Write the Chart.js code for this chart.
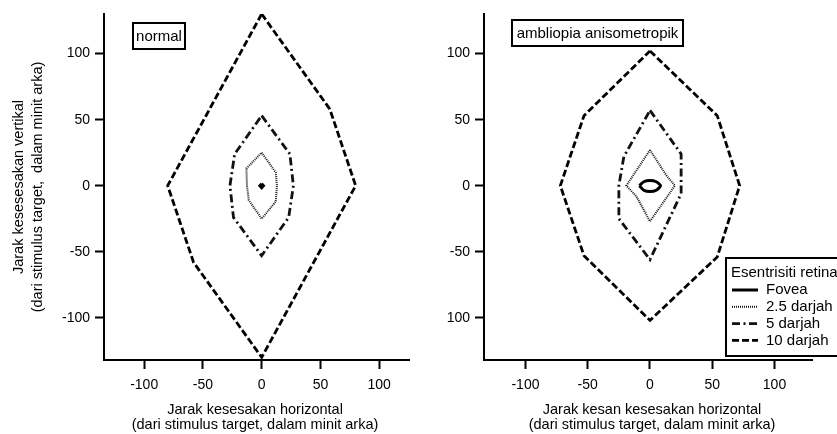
<!DOCTYPE html>
<html>
<head>
<meta charset="utf-8">
<script src="https://cdn.jsdelivr.net/npm/chart.js@4.4.1/dist/chart.umd.min.js"></script>
<style>
  html, body { margin: 0; padding: 0; background: #fff; }
  #wrap { position: relative; width: 837px; height: 434px; overflow: hidden; }
  #left { position: absolute; left: 0; top: 0; }
  #right { position: absolute; left: 420px; top: 0; }
</style>
</head>
<body>
<div id="wrap">
  <canvas id="left" width="420" height="434"></canvas>
  <canvas id="right" width="417" height="434"></canvas>
</div>
<script>
// tick values / labels
const xTicks = [-100, -50, 0, 50, 100];
const yTicks = [-100, -50, 0, 50, 100];
const leftYTickLabels = ['-100', '-50', '0', '50', '100'];
const rightYTickLabels = ['100', '-50', '0', '50', '100'];   // as printed in the figure
const seriesNames = ['Fovea', '2.5 darjah', '5 darjah', '10 darjah'];

// panel "normal"
const normFoveaX = [0, 1.5, 0, -1.5, 0];
const normFoveaY = [1.5, 0, -1.5, 0, 1.5];
const norm25X = [0, 12, 13, 12, 0, -11, -12.5, -13, 0];
const norm25Y = [25, 10, 0, -12, -25, -11, 0, 13, 25];
const norm5X = [0, 24, 27, 23, 0, -24, -27, -23, 0];
const norm5Y = [53, 24, 0, -24, -53, -24, 0, 24, 53];
const norm10X = [0, 58, 80, 0, -58, -80, 0];
const norm10Y = [130, 58, 0, -130, -58, 0, 130];

// panel "ambliopia anisometropik"
const ambFoveaX = [-8.5, -5, 0, 5, 8.5, 5, 0, -5, -8.5];
const ambFoveaY = [0, 3, 4, 3, 0, -3.5, -4.5, -3.5, 0];
const amb25X = [0, 13, 20, 0, -11, -19, 0];
const amb25Y = [27, 8, 0, -27, -8, 0, 27];
const amb5X = [0, 25, 25, 0, -25, -25, -21, 0];
const amb5Y = [57, 24, -6, -56, -25, 0, 22, 57];
const amb10X = [0, 54, 72, 54, 0, -53, -72, -53, 0];
const amb10Y = [102, 53, 0, -54, -102, -53, 0, 53, 102];

// line styles per series
const lineDashes = [[], [1, 1], [8, 3.5, 2, 3.5], [7, 3]];
const lineWidths = [3, 2, 2.8, 2.8];
const lineColors = ['#000', '#1a1a1a', '#111', '#000'];

const FONT = "'Liberation Sans', Arial, sans-serif";

function pts(xs, ys) {
  return xs.map((x, i) => ({ x: x, y: ys[i] }));
}

function decor(cfg) {
  return {
    id: 'decor',
    afterDraw(chart) {
      const ctx = chart.ctx;
      ctx.save();
      ctx.fillStyle = '#000';
      ctx.strokeStyle = '#000';
      ctx.font = '14.5px ' + FONT;
      ctx.textAlign = 'center';
      ctx.textBaseline = 'middle';
      // x title
      ctx.fillText(cfg.xTitle[0], cfg.xTitleX, 410);
      ctx.fillText(cfg.xTitle[1], cfg.xTitleX, 425);
      // y title
      if (cfg.yTitle) {
        ctx.save();
        ctx.translate(19, 187);
        ctx.rotate(-Math.PI / 2);
        ctx.fillText(cfg.yTitle[0], 0, 0);
        ctx.fillText(cfg.yTitle[1], 0, 19);
        ctx.restore();
      }
      // panel label box
      const b = cfg.labelBox;
      ctx.lineWidth = 2;
      ctx.strokeRect(b[0], b[1], b[2], b[3]);
      ctx.font = '15px ' + FONT;
      ctx.fillText(cfg.label, b[0] + b[2] / 2, b[1] + b[3] / 2 + 1);
      // legend
      if (cfg.legend) {
        const l = cfg.legend;
        ctx.fillStyle = '#fff';
        ctx.fillRect(l.x, l.y, l.w, l.h);
        ctx.lineWidth = 2;
        ctx.strokeRect(l.x, l.y, l.w, l.h);
        ctx.fillStyle = '#000';
        ctx.textAlign = 'left';
        ctx.fillText(l.title, l.x + 5, l.y + 15);
        chart.data.datasets.forEach((ds, i) => {
          const yy = l.y + 32 + i * 16.8;
          ctx.save();
          ctx.strokeStyle = ds.borderColor;
          ctx.lineWidth = ds.borderWidth;
          ctx.setLineDash(ds.borderDash || []);
          ctx.beginPath();
          ctx.moveTo(l.x + 6, yy);
          ctx.lineTo(l.x + 32, yy);
          ctx.stroke();
          ctx.restore();
          ctx.fillText(ds.label, l.x + 40, yy);
        });
      }
      ctx.restore();
    }
  };
}

function buildPanel(id, cfg) {
  const datasets = cfg.series.map((s, i) => ({
    label: seriesNames[i],
    data: pts(s[0], s[1]),
    showLine: true,
    fill: false,
    borderColor: lineColors[i],
    borderWidth: lineWidths[i],
    borderDash: lineDashes[i],
    pointRadius: 0,
    tension: cfg.tensions ? cfg.tensions[i] : 0
  }));
  const axisCommon = {
    type: 'linear',
    border: { display: true, color: '#000', width: 2 },
    grid: { display: true, drawOnChartArea: false, drawTicks: true, tickLength: 9, tickWidth: 2, tickColor: '#000' },
  };
  return new Chart(document.getElementById(id), {
    type: 'scatter',
    data: { datasets: datasets },
    options: {
      responsive: false,
      animation: false,
      layout: { padding: { left: 0, top: 14, right: cfg.padRight, bottom: 0 } },
      plugins: { legend: { display: false }, tooltip: { enabled: false } },
      scales: {
        x: Object.assign({}, axisCommon, {
          min: cfg.xMin, max: cfg.xMax,
          afterBuildTicks: s => { s.ticks = xTicks.map(v => ({ value: v })); },
          afterFit: s => { s.height = 74; },
          ticks: { color: '#000', padding: 8, maxRotation: 0, font: { family: FONT, size: 14 } }
        }),
        y: Object.assign({}, axisCommon, {
          min: -132, max: 130,
          afterBuildTicks: s => { s.ticks = yTicks.map(v => ({ value: v })); },
          afterFit: s => { s.width = cfg.yWidth; },
          ticks: {
            color: '#000', padding: 5, font: { family: FONT, size: 14 },
            callback: (v, i) => cfg.yLabels[i]
          }
        })
      }
    },
    plugins: [decor(cfg)]
  });
}

buildPanel('left', {
  xMin: -134.2, xMax: 125.4, yWidth: 104, padRight: 11,
  yLabels: leftYTickLabels,
  series: [[normFoveaX, normFoveaY], [norm25X, norm25Y], [norm5X, norm5Y], [norm10X, norm10Y]],
  xTitle: ['Jarak kesesakan horizontal', '(dari stimulus target, dalam minit arka)'],
  xTitleX: 255,
  yTitle: ['Jarak kesesesakan vertikal', '(dari stimulus target,  dalam minit arka)'],
  label: 'normal',
  labelBox: [133, 23, 52, 26]
});

buildPanel('right', {
  xMin: -133.3, xMax: 130.1, yWidth: 64, padRight: 25,
  yLabels: rightYTickLabels,
  tensions: [0.2, 0, 0, 0],
  series: [[ambFoveaX, ambFoveaY], [amb25X, amb25Y], [amb5X, amb5Y], [amb10X, amb10Y]],
  xTitle: ['Jarak kesan kesesakan horizontal', '(dari stimulus target, dalam minit arka)'],
  xTitleX: 232,
  yTitle: null,
  label: 'ambliopia anisometropik',
  labelBox: [92, 20, 171, 26],
  legend: { x: 306, y: 258, w: 112, h: 98, title: 'Esentrisiti retina' }
});
</script>
</body>
</html>
